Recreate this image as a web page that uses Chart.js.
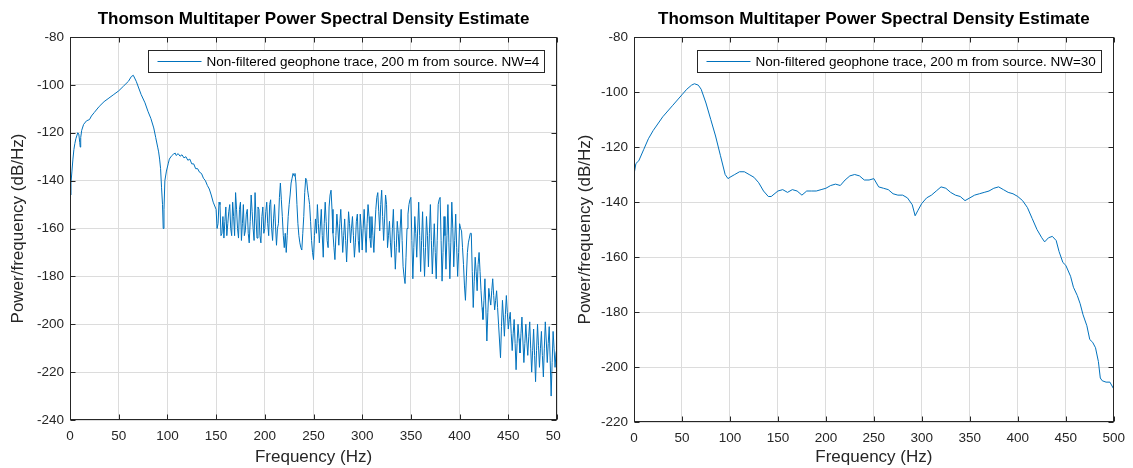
<!DOCTYPE html>
<html><head><meta charset="utf-8">
<script src="https://cdn.jsdelivr.net/npm/chart.js@4.4.1/dist/chart.umd.min.js"></script>
<style>
html,body{margin:0;padding:0;background:#fff;width:1133px;height:468px;overflow:hidden;}
#wrapL{position:absolute;left:0;top:0;width:561px;height:468px;overflow:hidden;}
#wrapR{position:absolute;left:566px;top:0;width:567px;height:468px;}
canvas{display:block;}
</style></head><body>
<div id="wrapL"><canvas id="cL" width="600" height="468"></canvas></div>
<div id="wrapR"><canvas id="cR" width="567" height="468"></canvas></div>
<script>
// ---------- data ----------
const chartTitle = "Thomson Multitaper Power Spectral Density Estimate";
const xAxisTitle = "Frequency (Hz)";
const yAxisTitle = "Power/frequency (dB/Hz)";
const legendLeft = "Non-filtered geophone trace, 200 m from source. NW=4";
const legendRight = "Non-filtered geophone trace, 200 m from source. NW=30";
const xTickStep = 50;
const yTickStep = 20;
const xRange = [0, 500];
const yRangeLeft = [-240, -80];
const yRangeRight = [-220, -80];

// NW=4 (left)
const freqL = [0,1,2,3,4,5,6,8,9,10,10.5,11,12,14,17,20,22,25,30,35,40,45,50,55,60,63,65,68,73,77,80,83,86,88,90,91,92,93,94,95,95.7,96.5,97.4,99,100.8,102,104,106,108,109,111,113,115,117,119,121,123,125,127,129,131,133,135,137,139,141,143,145,147,
150,151,152,153,154,155,156,157,158,159,
160,161,162,163,164,165,166,167,168,169,
170,171,172,173,174,175,176,177,178,179,
180,181,182,183,184,185,186,187,188,189,
190,191,192,193,194,195,196,197,198,199,
200,201,202,203,204,205,206,207,208,209,
210,211,212,213,214,215,216,217,218,219,
220,221,222,223,224,225,226,227,228,229,
230,231,232,233,234,235,236,237,238,239,
240,241,242,243,244,245,246,247,248,249,
250,251,252,253,254,255,256,257,258,259,
260,261,262,263,264,265,266,267,268,269,
270,271,272,273,274,275,276,277,278,279,
280,281,282,283,284,285,286,287,288,289,
290,291,292,293,294,295,296,297,298,299,
300,301,302,303,304,305,306,307,308,309,
310,311,312,313,314,315,316,317,318,319,
320,321,322,323,324,325,326,327,328,329,
330,331,332,333,334,335,336,337,338,339,
340,341,342,343,344,345,346,347,348,349,
350,351,352,353,354,355,356,357,358,359,
360,361,362,363,364,365,366,367,368,369,
370,371,372,373,374,375,376,377,378,379,
380,381,382,383,384,385,386,387,388,389,
390,391,392,393,394,395,396,397,398,399,
400,401,402,403,404,405,406,407,408,409,
410,411,412,413,414,415,416,417,418,419,
420,421,422,423,424,425,426,427,428,429,
430,431,432,433,434,435,436,437,438,439,
440,441,442,443,444,445,446,447,448,449,
450,451,452,453,454,455,456,457,458,459,
460,461,462,463,464,465,466,467,468,469,
470,471,472,473,474,475,476,477,478,479,
480,481,482,483,484,485,486,487,488,489,
490,491,492,493,494,495,496,497,498,499,
500];
const psdL = [-146,-141,-136,-131,-127,-124.5,-122.5,-120,-120.5,-124,-126,-122,-119,-116.5,-115,-114.5,-113,-111.5,-109,-107,-105.5,-104,-102.5,-100.5,-98.5,-96.5,-96,-98.5,-104,-107.5,-111,-114,-118,-122,-126,-128,-131,-135,-143,-150,-160,-152,-140,-136,-133,-131,-129.8,-129,-128.5,-129.5,-128.7,-129.8,-129.2,-130.5,-130,-131.5,-131,-133,-133,-135,-135,-136.5,-137,-139,-140,-142,-143.5,-146,-149,
-152,-160,-158,-149,-150,-163,-162,-155,-164,-157,
-151,-163,-158,-153,-150,-160,-163,-149,-155,-163,
-145,-152,-160,-164,-152,-149,-165,-158,-150,-163,
-161,-154,-152,-162,-166,-157,-146,-153,-160,-165,
-145,-156,-164,-151,-152,-163,-166,-155,-151,-162,
-160,-153,-149,-158,-163,-150,-148,-160,-165,-156,
-150,-159,-167,-160,-158,-147,-141,-148,-155,-163,
-168,-162,-170,-163,-155,-150,-146,-141,-139,-137,
-138,-137,-141,-150,-158,-163,-166,-168,-169,-162,
-155,-145,-139,-140,-144,-147,-150,-157,-165,-170,
-173,-163,-156,-162,-150,-158,-166,-159,-152,-163,
-172,-158,-149,-157,-165,-168,-151,-146,-144,-152,
-162,-168,-173,-163,-154,-160,-167,-158,-152,-161,
-170,-163,-156,-165,-174,-164,-153,-158,-166,-160,
-155,-163,-172,-166,-157,-154,-165,-170,-154,-160,
-169,-160,-152,-161,-170,-158,-150,-155,-164,-168,
-155,-163,-170,-160,-152,-147,-145,-153,-161,-150,
-144,-155,-165,-156,-146,-150,-168,-163,-157,-166,
-172,-160,-152,-165,-177,-168,-157,-162,-170,-160,
-152,-165,-176,-180,-183,-172,-160,-154,-150,-148,
-147,-165,-181,-168,-155,-162,-172,-160,-149,-163,
-178,-165,-153,-168,-180,-168,-155,-163,-176,-162,
-150,-165,-179,-168,-158,-170,-181,-165,-150,-148,
-147,-165,-182,-170,-155,-163,-177,-163,-150,-166,
-181,-166,-149,-160,-176,-165,-154,-168,-180,-170,
-158,-160,-161,-168,-175,-184,-190,-180,-170,-166,
-164,-162,-162,-178,-193,-182,-172,-178,-186,-175,
-170,-178,-186,-193,-198,-190,-181,-194,-207,-195,
-185,-189,-192,-186,-181,-188,-194,-190,-186,-193,
-200,-207,-214,-201,-190,-197,-205,-196,-188,-195,
-202,-198,-195,-204,-211,-204,-198,-208,-219,-208,
-200,-206,-212,-204,-197,-207,-216,-208,-200,-207,
-213,-205,-199,-210,-220,-211,-202,-213,-224,-211,
-200,-209,-218,-210,-203,-213,-222,-210,-199,-207,
-216,-208,-201,-215,-230,-216,-203,-210,-218,-212,
-210];

// NW=30 (right)
const freqR = [0,2,5,10,15,20,30,40,50,55,60,63,67,70,75,80,85,90,95,98,100,105,110,115,120,125,130,135,140,143,150,155,160,165,170,175,180,185,190,195,200,205,210,215,220,225,230,235,240,245,250,255,260,265,270,275,280,285,290,293,296,300,305,310,315,320,325,330,335,340,345,350,355,360,365,370,375,380,385,390,395,400,405,410,415,420,425,428,432,436,440,443,447,450,455,458,462,465,468,472,475,478,481,484,486,488,492,496,500];
const psdR = [-130,-126,-125,-121,-117,-114,-109,-105,-101,-99,-97.5,-97,-97.5,-99,-104,-110,-116,-123,-130,-131.5,-131,-130,-129,-129,-130,-131,-133,-136,-138,-138,-136,-135.5,-136.5,-135.5,-136,-137.5,-136,-136,-136,-135.5,-135,-134,-133.5,-134,-132,-130.5,-130,-130.5,-132,-132,-131.5,-134.5,-135,-135.5,-137,-137.5,-137.5,-138.5,-141,-145,-143,-140.5,-138.5,-137.5,-136,-134.5,-135,-136.5,-137.5,-138,-139.5,-138.5,-137.5,-137,-136.5,-136,-135,-134.5,-135.5,-136.5,-137,-138,-139.5,-142,-146,-150,-153,-154.5,-153,-152.5,-154,-158,-162,-163,-167,-171,-174,-177,-181,-185,-190,-191,-193,-198,-204,-205,-205.5,-205.5,-208];

// ---------- styling ----------
const FONT = '"Liberation Sans", Arial, Helvetica, sans-serif';
const AXIS = '#262626';
const GRID = '#dcdcdc';
const LINE = '#0072BD';

const framePlugin = {
  id: 'frame',
  afterDatasetsDraw(chart) {
    const {ctx, chartArea: a, scales: {x, y}} = chart;
    ctx.save();
    ctx.strokeStyle = AXIS; ctx.lineWidth = 1;
    const L = Math.round(a.left) + 0.5, R = Math.round(a.right) - 0.5;
    const T = Math.round(a.top) + 0.5, B = Math.round(a.bottom) - 0.5;
    ctx.beginPath();
    x.ticks.forEach(t => {
      const px = Math.round(x.getPixelForValue(t.value)) + 0.5;
      ctx.moveTo(px, T); ctx.lineTo(px, T + 5);
      ctx.moveTo(px, B); ctx.lineTo(px, B - 5);
    });
    y.ticks.forEach(t => {
      const py = Math.round(y.getPixelForValue(t.value)) + 0.5;
      ctx.moveTo(L, py); ctx.lineTo(L + 5, py);
      ctx.moveTo(R, py); ctx.lineTo(R - 5, py);
    });
    ctx.stroke();
    ctx.strokeRect(L, T, R - L, B - T);
    // legend box inside plot, top right
    const ds = chart.data.datasets[0];
    ctx.font = '13.5px ' + FONT;
    const tw = ctx.measureText(ds.label).width;
    const h = 22;
    const w = 9 + 44 + 5 + tw + 6;
    const right = Math.round(a.right - 13) + 0.5;
    const left = Math.round(right - w) + 0.5;
    const top = Math.round(a.top + 13) + 0.5;
    ctx.fillStyle = '#fff';
    ctx.fillRect(left, top, right - left, h);
    ctx.strokeStyle = AXIS;
    ctx.strokeRect(left, top, right - left, h);
    ctx.strokeStyle = ds.borderColor; ctx.lineWidth = 1;
    ctx.beginPath();
    ctx.moveTo(left + 9, top + h / 2); ctx.lineTo(left + 53, top + h / 2);
    ctx.stroke();
    ctx.fillStyle = '#000';
    ctx.textBaseline = 'middle'; ctx.textAlign = 'left';
    ctx.fillText(ds.label, left + 58, top + h / 2 + 0.5);
    ctx.restore();
  }
};

function makeChart(id, freq, psd, yRange, label, g) {
  return new Chart(document.getElementById(id), {
    type: 'line',
    data: {
      datasets: [{
        label: label,
        data: freq.map((f, i) => ({x: f, y: psd[i]})),
        borderColor: LINE, borderWidth: 1, pointRadius: 0, tension: 0, fill: false
      }]
    },
    options: {
      responsive: false, animation: false, devicePixelRatio: 1,
      layout: {padding: {left: 0, right: g.padRight, top: 0, bottom: 0}},
      plugins: {
        legend: {display: false},
        tooltip: {enabled: false},
        title: {
          display: true, text: chartTitle, color: '#000', fullSize: false,
          font: {family: FONT, size: 17, weight: 'bold', lineHeight: 1.2},
          padding: {top: 9, bottom: 7.6}
        }
      },
      scales: {
        x: {
          type: 'linear', min: xRange[0], max: xRange[1],
          ticks: {stepSize: xTickStep, color: AXIS, font: {family: FONT, size: 13.5}, padding: 8, maxRotation: 0},
          grid: {color: GRID, drawTicks: false},
          border: {display: false},
          title: {display: true, text: xAxisTitle, color: AXIS, font: {family: FONT, size: 17, lineHeight: 1.2}, padding: {top: 0, bottom: 0}},
          afterFit: s => { s.height = g.xHeight; }
        },
        y: {
          type: 'linear', min: yRange[0], max: yRange[1],
          ticks: {stepSize: yTickStep, color: AXIS, font: {family: FONT, size: 13.5}, padding: 6},
          grid: {color: GRID, drawTicks: false},
          border: {display: false},
          title: {display: true, text: yAxisTitle, color: AXIS, font: {family: FONT, size: 17, lineHeight: 1.2}, padding: {top: g.yTitlePad, bottom: 0}},
          afterFit: s => { s.width = g.yWidth; }
        }
      }
    },
    plugins: [framePlugin]
  });
}

makeChart('cL', freqL, psdL, yRangeLeft, legendLeft, {padRight: 43, xHeight: 48, yWidth: 70, yTitlePad: 8});
makeChart('cR', freqR, psdR, yRangeRight, legendRight, {padRight: 15, xHeight: 46, yWidth: 68, yTitlePad: 9});
</script>
</body></html>
